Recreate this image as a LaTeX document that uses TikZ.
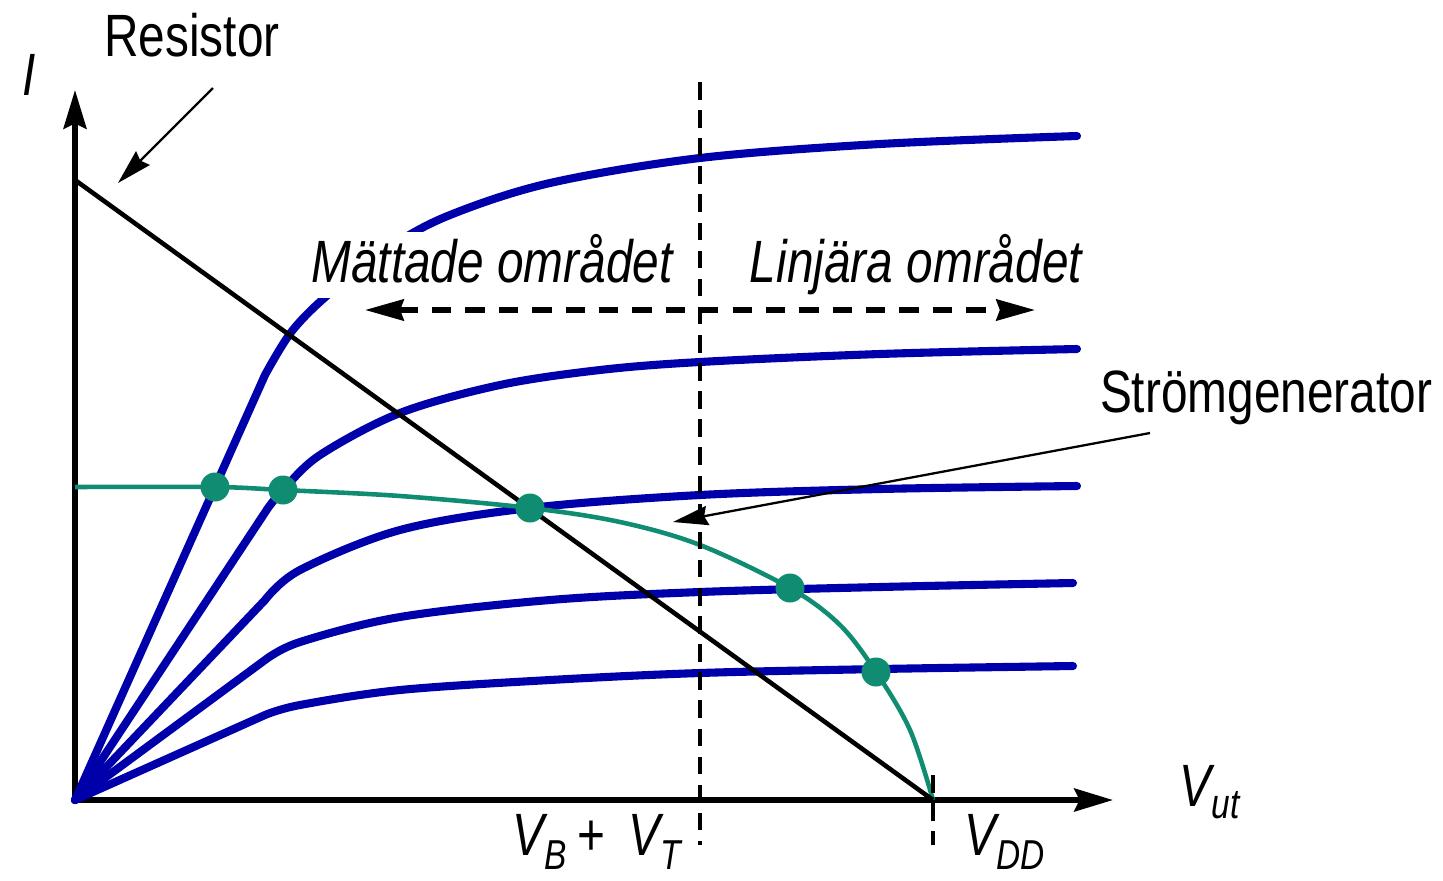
\documentclass[tikz,border=0pt]{standalone}
\usepackage{fontspec}
\setmainfont{Liberation Sans}[FakeStretch=0.8]
\usetikzlibrary{arrows.meta,positioning,calc}
\definecolor{kurvblue}{RGB}{0,0,170}
\definecolor{genteal}{RGB}{16,140,115}
\tikzset{
  lbl/.style={font=\fontsize{34}{40}\selectfont,inner sep=0pt},
  ilbl/.style={font=\fontsize{34}{40}\selectfont\itshape,inner sep=0pt},
  axis/.style={line width=3.2pt,-{Stealth[length=22pt,width=13pt,inset=3pt]}},
  kurva/.style={kurvblue,line width=4.6pt,line cap=round,line join=round},
  gen/.style={genteal,line width=2.6pt},
  prick/.style={circle,fill=genteal,inner sep=0pt,minimum size=16.5pt},
  pil/.style={line width=1.3pt,-{Stealth[length=20pt,width=11pt,inset=2pt]}},
  omrpil/.style={line width=3pt,dash pattern=on 11pt off 8pt,
    {Stealth[length=22pt,width=12pt,inset=2pt]}-{Stealth[length=22pt,width=12pt,inset=2pt]}},
  grans/.style={line width=1.9pt,dash pattern=on 10pt off 6pt}
}

\begin{document}
\begin{tikzpicture}[x=0.02cm,y=-0.02cm]
\useasboundingbox (0,0) rectangle (1443,880);
% axlar
\coordinate (O) at (75,800);
\coordinate (Itop) at (75,90);
\coordinate (Xend) at (1113,800);
\draw[axis] (O) -- (Itop);
\draw[axis] (O) -- (Xend);
\node[ilbl] (ilabel) at (29,75) {I};
\node[ilbl] (vut) at (1210,792) {V\textsubscript{ut}};
% transistorkurvor
\draw[kurva] (O) -- plot[smooth,tension=.55] coordinates {(265,375) (292,331) (330,293) (390,247) (450,215) (550,183) (700,158) (880,144) (1077,136)};
\draw[kurva] (O) -- plot[smooth,tension=.55] coordinates {(268,508) (283,490) (320,455) (400,413) (500,385) (600,370) (700,362) (880,354) (1077,349)};
\draw[kurva] (O) -- plot[smooth,tension=.55] coordinates {(265,600) (300,570) (400,530) (530,508) (700,495) (880,489) (1077,486)};
\draw[kurva] (O) -- plot[smooth,tension=.55] coordinates {(265,660) (300,642) (400,617) (550,600) (700,592) (880,587) (1073,583)};
\draw[kurva] (O) -- plot[smooth,tension=.55] coordinates {(265,715) (300,705) (400,690) (550,680) (700,673) (880,669) (1073,666)};
% strömgenerator
\draw[gen] plot[smooth,tension=.55] coordinates {(75,487) (215,487) (283,490) (400,496) (530,508) (620,522) (700,545) (790,588) (840,625) (876,672) (910,730) (933,800)};
% resistor
\coordinate (Rtop) at (75,180);
\coordinate (Rbot) at (933,800);
\draw[line width=2.6pt] (Rtop) -- (Rbot);
\foreach \p [count=\i] in {(215,487),(283,490),(530,508),(790,588),(876,672)}
  \node[prick] (p\i) at \p {};
% gränser
\coordinate (gtop) at (700,82);
\coordinate (gbot) at (700,845);
\draw[grans] (gtop) -- (gbot);
\coordinate (vddtop) at (933,775);
\coordinate (vddbot) at (933,845);
\draw[grans] (vddtop) -- (vddbot);
\node[ilbl] (vbvt) at (597,842) {V\textsubscript{B}\,\textup{+}\, V\textsubscript{T}};
\node[ilbl] (vdd) at (1005,842) {V\textsubscript{DD}};
% områden
\node[ilbl,fill=white,inner xsep=2pt,inner ysep=1pt,text depth=8pt] (mattade) at (492,265) {Mättade området};
\node[ilbl] (linjara) at (916,265) {Linjära området};
\coordinate (ml) at (365,310);
\coordinate (mr) at (1035,310);
\draw[omrpil] (ml) -- (mr);
% etiketter
\node[lbl] (resistor) at (192,35) {Resistor};
\coordinate (rstart) at (213,88);
\coordinate (rtip) at (118,183);
\draw[pil] (rstart) -- (rtip);
\node[lbl] (stromgen) at (1266,398) {Strömgenerator};
\coordinate (sstart) at (1150,433);
\coordinate (stip) at (673,522);
\draw[pil] (sstart) -- (stip);
\end{tikzpicture}
\end{document}
